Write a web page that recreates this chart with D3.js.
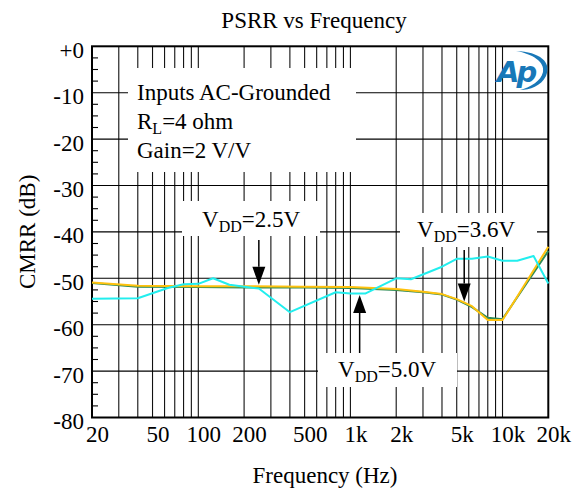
<!DOCTYPE html>
<html>
<head>
<meta charset="utf-8">
<script src="https://cdn.jsdelivr.net/npm/d3@7"></script>
<style>
  html, body { margin: 0; padding: 0; background: #fff; }
  svg { display: block; }
  text { font-family: "Liberation Serif", "Times New Roman", serif; fill: #000; }
</style>
</head>
<body>
<svg id="chart" width="576" height="490"></svg>
<script>
// ---- data ----
const xTickValues = [20, 50, 100, 200, 500, 1000, 2000, 5000, 10000, 20000];
const xTickLabels = ["20", "50", "100", "200", "500", "1k", "2k", "5k", "10k", "20k"];
const yTickValues = [0, -10, -20, -30, -40, -50, -60, -70, -80];
const yTickLabels = ["+0", "-10", "-20", "-30", "-40", "-50", "-60", "-70", "-80"];

// VDD = 2.5 V (cyan)
const freq25 = [20, 40, 63, 80, 100, 125, 160, 250, 400, 800, 1000, 1250, 2000, 2500, 4000, 5000, 6300, 8000, 10000, 12500, 16000, 20000];
const vdd25 = [-54.4, -54.3, -52.1, -51.3, -51.2, -50.0, -51.4, -52.2, -57.3, -53.0, -53.3, -53.3, -50.0, -50.2, -47.5, -45.8, -45.8, -45.3, -46.2, -46.2, -45.2, -51.1];

// VDD = 3.6 V (green) and VDD = 5.0 V (yellow)
const freqHi = [20, 40, 100, 200, 500, 1000, 2000, 3000, 4000, 5000, 6300, 8000, 10000, 20000];
const vdd36 = [-51.0, -51.8, -51.9, -52.0, -52.0, -52.1, -52.5, -53.0, -53.5, -54.6, -56.2, -58.5, -58.8, -44.1];
const vdd50 = [-50.9, -51.6, -51.7, -51.7, -51.8, -51.9, -52.3, -52.9, -53.4, -54.5, -56.0, -59.0, -59.0, -43.2];

// ---- layout ----
const pL = 92, pR = 548.3, pT = 46.3, pB = 417.5;
const FS = "23px", SUB = "16px";

const svg = d3.select("#chart");
const x = d3.scaleLog().domain([20, 20000]).range([pL, pR]);
const y = d3.scaleLinear().domain([0, -80]).range([pT, pB]);

// title & axis titles
svg.append("text").attr("x", 314).attr("y", 28).attr("text-anchor", "middle")
  .style("font-size", FS).text("PSRR vs Frequency");
svg.append("text").attr("x", 325).attr("y", 483).attr("text-anchor", "middle")
  .style("font-size", FS).text("Frequency (Hz)");
svg.append("text").attr("transform", "translate(35," + ((pT + pB) / 2) + ") rotate(-90)")
  .attr("text-anchor", "middle").style("font-size", FS).text("CMRR (dB)");

// grid
const grid = svg.append("g");
grid.selectAll("line.v").data(x.ticks().filter(f => f > 20 && f < 20000)).join("line")
  .attr("x1", d => x(d)).attr("x2", d => x(d)).attr("y1", pT).attr("y2", pB)
  .attr("stroke", "#111").attr("stroke-width", 1.1);
grid.selectAll("line.h").data(yTickValues.filter(v => v < 0 && v > -80)).join("line")
  .attr("x1", pL).attr("x2", pR).attr("y1", d => y(d)).attr("y2", d => y(d))
  .attr("stroke", "#000").attr("stroke-width", 1.1);

// minor ticks on the left axis (every 2.5 dB)
const minor = d3.range(0, -80.01, -2.5).filter(v => v % 10 !== 0);
grid.selectAll("line.m").data(minor).join("line")
  .attr("x1", pL).attr("x2", pL + 6).attr("y1", d => y(d)).attr("y2", d => y(d))
  .attr("stroke", "#000").attr("stroke-width", 1.1);

// annotation boxes (white backgrounds breaking the grid)
const boxes = [
  { x0: 128, y0: 68, x1: 356, y1: 172 },
  { x0: 182, y0: 201, x1: 320, y1: 236 },
  { x0: 400, y0: 213, x1: 537, y1: 247 },
  { x0: 318, y0: 353, x1: 457, y1: 387 }
];
svg.append("g").selectAll("rect").data(boxes).join("rect")
  .attr("x", d => d.x0).attr("y", d => d.y0)
  .attr("width", d => d.x1 - d.x0).attr("height", d => d.y1 - d.y0)
  .attr("fill", "#fff");

// frame
svg.append("rect").attr("x", pL).attr("y", pT).attr("width", pR - pL).attr("height", pB - pT)
  .attr("fill", "none").attr("stroke", "#000").attr("stroke-width", 2);

// axis tick labels
const xAxis = d3.axisBottom(x).tickValues(xTickValues).tickSize(0)
  .tickFormat((d, i) => xTickLabels[i]);
const gx = svg.append("g").attr("transform", "translate(5," + pB + ")").call(xAxis);
gx.select(".domain").remove();
gx.selectAll("text").attr("dy", 0).attr("y", 24).style("font-size", FS)
  .style("font-family", "Liberation Serif, serif");

const yAxis = d3.axisLeft(y).tickValues(yTickValues).tickSize(0)
  .tickFormat((d, i) => yTickLabels[i]);
const gy = svg.append("g").attr("transform", "translate(" + (pL - 8) + ",0)").call(yAxis);
gy.select(".domain").remove();
gy.selectAll("text").attr("x", 0).attr("dy", 0).attr("y", 11).style("font-size", FS)
  .style("font-family", "Liberation Serif, serif");

// curves
const line = d3.line().x(d => x(d[0])).y(d => y(d[1]));
const series = [
  { f: freqHi, v: vdd36, color: "#2e8b57" },
  { f: freqHi, v: vdd50, color: "#ffc20e" },
  { f: freq25, v: vdd25, color: "#22eeee" }
];
svg.append("g").selectAll("path").data(series).join("path")
  .attr("d", s => line(s.f.map((f, i) => [f, s.v[i]])))
  .attr("fill", "none").attr("stroke", s => s.color).attr("stroke-width", 2)
  .attr("stroke-linejoin", "round");

// condition text
const cond = svg.append("g").style("font-size", FS);
cond.append("text").attr("x", 137).attr("y", 100).text("Inputs AC-Grounded");
const rl = cond.append("text").attr("x", 137).attr("y", 129);
rl.append("tspan").text("R");
rl.append("tspan").attr("dy", 5).style("font-size", SUB).text("L");
rl.append("tspan").attr("dy", -5).text("=4 ohm");
cond.append("text").attr("x", 137).attr("y", 158).text("Gain=2 V/V");

// VDD labels with arrows
const labels = [
  { text: "2.5V", tx: 202, ty: 227, f: 250, from: 240, to: -51.4, up: false },
  { text: "3.6V", tx: 417, ty: 237, f: 5600, from: 250, to: -55.0, up: false },
  { text: "5.0V", tx: 338, ty: 377, f: 1150, from: 353, to: -53.6, up: true }
];
labels.forEach(l => {
  const t = svg.append("text").attr("x", l.tx).attr("y", l.ty).style("font-size", FS);
  t.append("tspan").text("V");
  t.append("tspan").attr("dy", 5).style("font-size", SUB).text("DD");
  t.append("tspan").attr("dy", -5).text("=" + l.text);
  const ax = x(l.f), tip = y(l.to);
  const headLen = 18, hw = 6.5;
  const base = l.up ? tip + headLen : tip - headLen;
  svg.append("line").attr("x1", ax).attr("x2", ax).attr("y1", l.from).attr("y2", base)
    .attr("stroke", "#000").attr("stroke-width", 1.5);
  svg.append("path").attr("d", `M${ax},${tip}L${ax - hw},${base}L${ax + hw},${base}Z`).attr("fill", "#000");
});

// logo
const logo = svg.append("g");
logo.append("path")
  .attr("d", "M516,51 C540,52 552,62 546,76 C541,86 530,90 520,90 C531,87 541,81 543,72 C545,62 533,54 516,51 Z")
  .attr("fill", "#1878b8");
logo.append("text").attr("x", 497).attr("y", 82)
  .style("font-family", "DejaVu Sans, sans-serif").style("font-style", "italic").style("font-weight", "bold")
  .style("font-size", "29px").style("fill", "#1878b8").style("letter-spacing", "-3px").text("Ap");
</script>
</body>
</html>
